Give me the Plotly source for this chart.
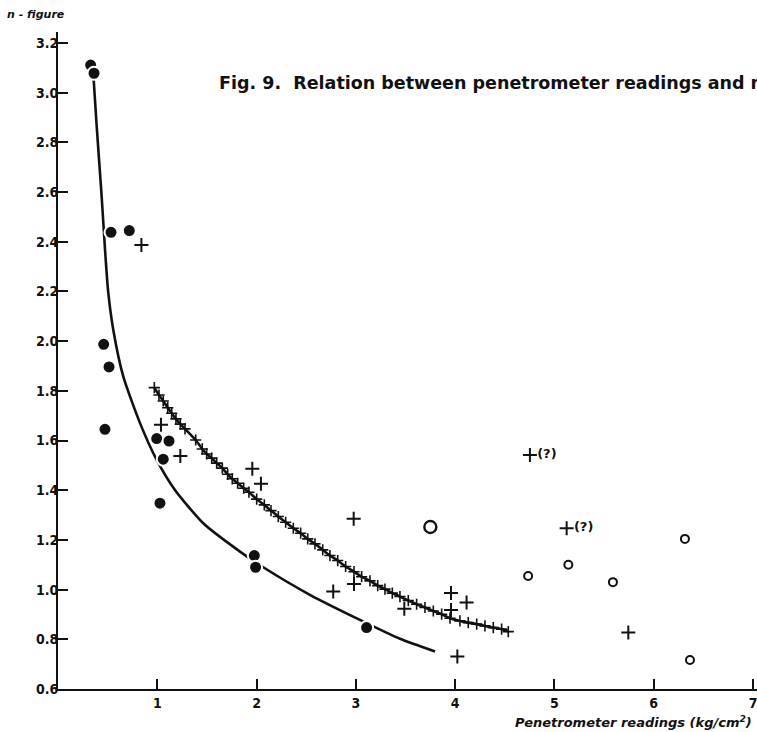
import plotly.graph_objects as go

# ---- data ----
# filled circles
filled_x = [0.329, 0.363, 0.534, 0.718, 0.46, 0.514, 0.473, 0.994, 1.118, 1.06, 1.027, 1.977, 1.99, 3.108]
filled_y = [3.111, 3.078, 2.438, 2.445, 1.987, 1.896, 1.645, 1.608, 1.598, 1.525, 1.348, 1.137, 1.09, 0.847]

# crosses (single)
plus_x = [0.84, 1.037, 1.232, 1.957, 2.044, 2.978, 2.772, 2.981, 3.488, 3.958, 3.958, 4.115, 4.022, 5.744]
plus_y = [2.387, 1.663, 1.538, 1.486, 1.426, 1.285, 0.992, 1.023, 0.923, 0.986, 0.918, 0.948, 0.731, 0.827]

# uncertain crosses
q_x = [4.753, 5.123]
q_y = [1.542, 1.247]
q_text = ["(?)", "(?)"]

# small open circles
open_x = [4.735, 5.14, 5.589, 6.314, 6.365]
open_y = [1.055, 1.10, 1.030, 1.204, 0.717]

# large open circle
big_x = [3.75]
big_y = [1.252]

# lower curve (plain line)
low_x = [0.355, 0.390, 0.440, 0.475, 0.505, 0.557, 0.658, 0.826, 0.994, 1.178,
         1.463, 1.833, 2.067, 2.537, 3.041, 3.444, 3.797]
low_y = [3.078, 2.863, 2.580, 2.360, 2.200, 2.045, 1.857, 1.670, 1.522, 1.401,
         1.267, 1.153, 1.090, 0.979, 0.878, 0.802, 0.751]

# upper curve (line with cross ticks)
up_x = [0.970, 1.017, 1.060, 1.105, 1.145, 1.188, 1.232, 1.279, 1.387, 1.453, 1.497, 1.548,
        1.598, 1.655, 1.709, 1.755, 1.810, 1.870, 1.923, 2.001, 2.078, 2.145, 2.219, 2.293,
        2.370, 2.444, 2.515, 2.588, 2.666, 2.739, 2.817, 2.897, 2.981, 3.058, 3.142, 3.220,
        3.293, 3.367, 3.444, 3.528, 3.612, 3.696, 3.780, 3.864, 3.948, 4.048, 4.132, 4.217,
        4.300, 4.384, 4.468, 4.535]
up_y = [1.813, 1.783, 1.759, 1.732, 1.710, 1.687, 1.666, 1.647, 1.602, 1.566, 1.546, 1.529,
        1.509, 1.489, 1.464, 1.446, 1.428, 1.408, 1.392, 1.364, 1.341, 1.318, 1.294, 1.271,
        1.247, 1.227, 1.204, 1.184, 1.160, 1.137, 1.117, 1.093, 1.072, 1.052, 1.035, 1.016,
        1.002, 0.986, 0.972, 0.956, 0.941, 0.928, 0.914, 0.901, 0.885, 0.874, 0.867, 0.861,
        0.854, 0.847, 0.841, 0.831]

y_ticks = [0.6, 0.8, 1.0, 1.2, 1.4, 1.6, 1.8, 2.0, 2.2, 2.4, 2.6, 2.8, 3.0, 3.2]
x_ticks = [1, 2, 3, 4, 5, 6, 7]

INK = "#111111"
TICKFONT = dict(family="Liberation Sans Narrow, DejaVu Sans Condensed, Arial Narrow, sans-serif",
                size=14, color=INK, weight="bold")

fig = go.Figure()

fig.add_trace(go.Scatter(x=low_x, y=low_y, mode="lines",
                         line=dict(color=INK, width=2.6, shape="spline", smoothing=0.6),
                         hoverinfo="skip"))
fig.add_trace(go.Scatter(x=up_x, y=up_y, mode="lines+markers",
                         line=dict(color=INK, width=2.6, shape="spline", smoothing=0.6),
                         marker=dict(symbol="cross-thin", size=8, color=INK,
                                     line=dict(color=INK, width=1.6)),
                         hoverinfo="skip"))
fig.add_trace(go.Scatter(x=filled_x, y=filled_y, mode="markers",
                         marker=dict(symbol="circle", size=13, color=INK,
                                     line=dict(color="white", width=2))))
fig.add_trace(go.Scatter(x=plus_x, y=plus_y, mode="markers",
                         marker=dict(symbol="cross-thin", size=10, color=INK,
                                     line=dict(color=INK, width=2))))
fig.add_trace(go.Scatter(x=q_x, y=q_y, mode="markers+text", text=q_text,
                         textposition="middle right",
                         textfont=dict(family="DejaVu Sans, sans-serif", size=13, color=INK, weight="bold"),
                         marker=dict(symbol="cross-thin", size=10, color=INK,
                                     line=dict(color=INK, width=2))))
fig.add_trace(go.Scatter(x=open_x, y=open_y, mode="markers",
                         marker=dict(symbol="circle-open", size=8, color=INK,
                                     line=dict(color=INK, width=2))))
fig.add_trace(go.Scatter(x=big_x, y=big_y, mode="markers",
                         marker=dict(symbol="circle-open", size=12, color=INK,
                                     line=dict(color=INK, width=2.4))))

fig.update_layout(
    width=757, height=732,
    margin=dict(l=58, r=0, t=32, b=43),
    paper_bgcolor="white", plot_bgcolor="white",
    showlegend=False,
    xaxis=dict(range=[0, 7.04], tickvals=x_ticks, ticktext=[str(v) for v in x_ticks],
               ticks="inside", ticklen=10, tickwidth=1.5, tickcolor=INK,
               showline=True, linecolor=INK, linewidth=2, showgrid=False, zeroline=False,
               tickfont=TICKFONT, ticklabelstandoff=0, ticklabeloverflow="allow"),
    yaxis=dict(range=[0.6, 3.244], tickvals=y_ticks, ticktext=[f"{v:.1f}" for v in y_ticks],
               ticks="inside", ticklen=10, tickwidth=1.5, tickcolor=INK,
               showline=True, linecolor=INK, linewidth=2, showgrid=False, zeroline=False,
               tickfont=TICKFONT, ticklabelstandoff=-5),
    annotations=[
        dict(text="Fig. 9.  Relation between penetrometer readings and n-figure",
             xref="paper", yref="paper", x=(217 - 58) / 699, y=1 - (83 - 32) / 657,
             xanchor="left", yanchor="middle", showarrow=False,
             font=dict(family="DejaVu Sans, sans-serif", size=17.5, color=INK, weight="bold")),
        dict(text="n - figure", xref="paper", yref="paper",
             x=-(58 - 5) / 699, y=1 + (32 - 15) / 657, xanchor="left", yanchor="middle",
             showarrow=False,
             font=dict(family="DejaVu Sans, sans-serif", size=11, color=INK, weight="bold", style="italic")),
        dict(text="Penetrometer readings (kg/cm<sup>2</sup>)", xref="paper", yref="paper",
             x=(513 - 58) / 699, y=-(722 - 689) / 657, xanchor="left", yanchor="middle",
             showarrow=False,
             font=dict(family="DejaVu Sans, sans-serif", size=13, color=INK, weight="bold", style="italic")),
    ],
)

fig.write_html("out.html")
